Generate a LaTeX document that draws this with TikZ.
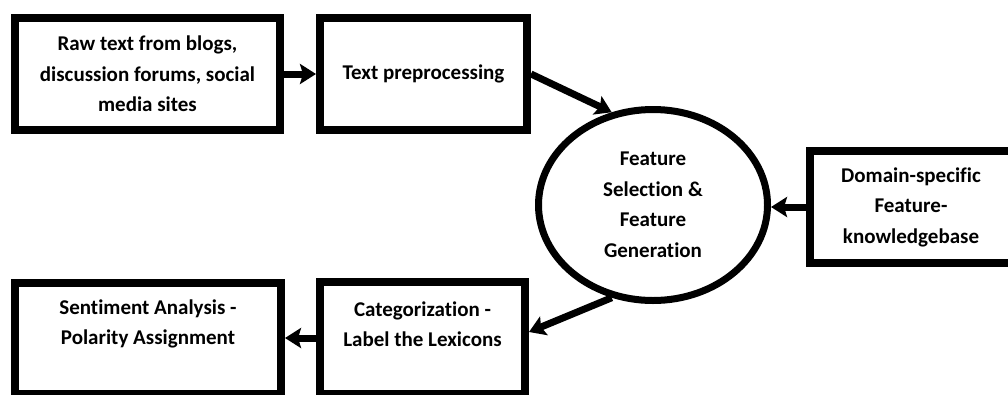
\documentclass[tikz,border=0pt]{standalone}
\usepackage{fontspec}
\setmainfont{Carlito}[Ligatures={NoCommon}]
\usetikzlibrary{arrows.meta,shapes.geometric}
\newcommand\labelfont{\fontsize{21}{30.5}\selectfont\bfseries}
\begin{document}
\begin{tikzpicture}[x=1pt,y=-1pt,
  box/.style={draw, line width=8pt, rectangle, inner sep=0pt, align=center, font=\labelfont},
  oval/.style={draw, line width=7pt, ellipse, inner sep=0pt, align=center, font=\labelfont},
  lbl/.style={align=center, font=\labelfont, inner sep=0pt},
  flow/.style={line width=7pt, -{Stealth[length=16pt,width=20pt,inset=3pt]}}]

\useasboundingbox (0,0) rectangle (1008,394);
\clip (0,0) rectangle (1008,394);

% top row
\node[box, minimum width=265pt, minimum height=112pt] (raw) at (147.5,74)
  {Raw text from blogs,\\discussion forums, social\\media sites};
\node[box, minimum width=207pt, minimum height=112pt] (prep) at (423.5,74)
  {Text preprocessing};

% central stage
\node[oval, minimum width=229pt, minimum height=191pt] (feat) at (653,205)
  {Feature\\Selection \&\\Feature\\Generation};

% knowledge base on the right (runs off the page edge)
\node[box, minimum width=202pt, minimum height=112pt] (kb) at (911,207)
  {Domain-specific\\Feature-\\knowledgebase};

% bottom row (boxes run off the lower edge, labels sit near the top)
\node[box, minimum width=266pt, minimum height=111pt] (sent) at (148,338.5) {};
\node[lbl] (senttext) at (148,324) {Sentiment Analysis -\\Polarity Assignment};
\node[box, minimum width=205pt, minimum height=112pt] (cat) at (422.5,338) {};
\node[lbl] (cattext) at (422.5,324) {Categorization -\\Label the Lexicons};

% connectors
\draw[flow] (raw.east) -- (prep.west);
\draw[flow] (prep.east) -- (feat.114);
\draw[flow] (kb.west) -- (feat.east |- kb.west);
\draw[flow] (feat.246) -- ([yshift=6pt]cat.east);
\draw[flow] (cat.west) -- (cat.west -| sent.east);
\end{tikzpicture}
\end{document}
